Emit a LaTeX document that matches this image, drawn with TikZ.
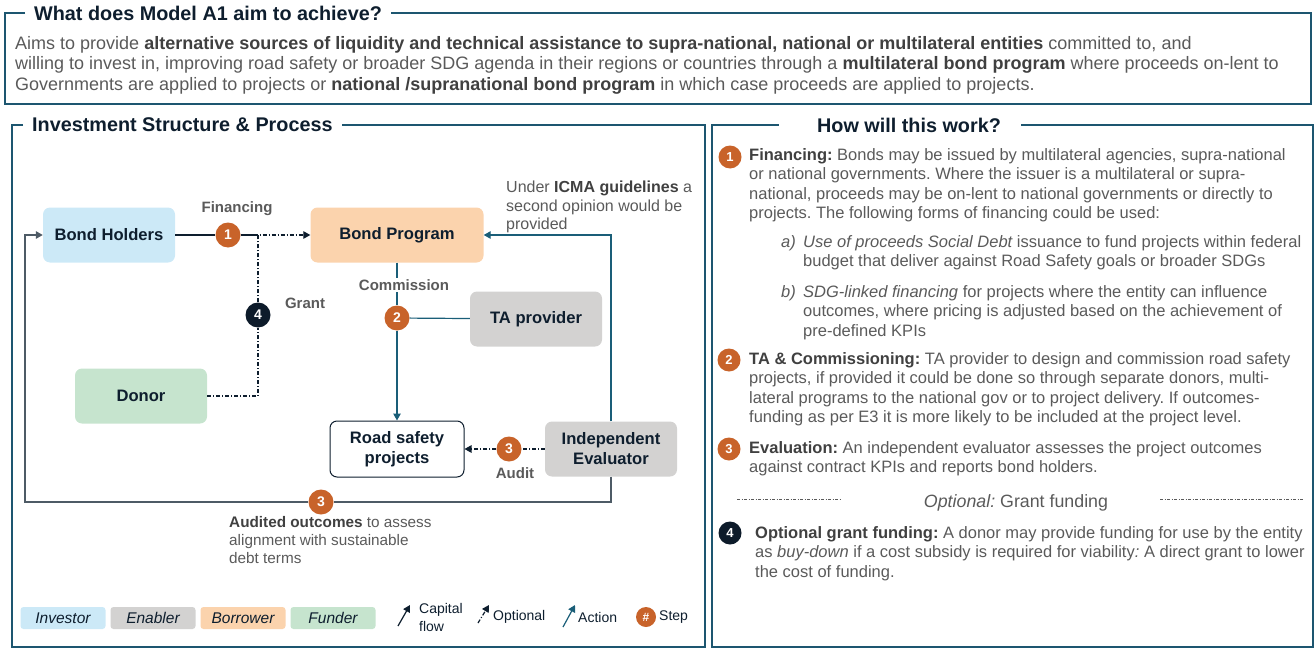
\documentclass[tikz,border=0pt]{standalone}
\usepackage{fontspec}
\setmainfont{Liberation Sans}
\usetikzlibrary{arrows.meta,positioning}
\frenchspacing
\definecolor{RSFrame}{HTML}{1D5670}
\definecolor{RSInk}{HTML}{0E1E2E}
\definecolor{RSGrey}{HTML}{5A5A5A}
\definecolor{RSDark}{HTML}{404040}
\definecolor{RSTeal}{HTML}{1A5E78}
\definecolor{RSSlate}{HTML}{4E5B66}
\definecolor{RSOrange}{HTML}{C8632A}
\definecolor{RSNavy}{HTML}{0D1B2A}
\definecolor{RSInvestor}{HTML}{CCE9F7}
\definecolor{RSEnabler}{HTML}{D3D2D1}
\definecolor{RSBorrower}{HTML}{FBD3AD}
\definecolor{RSFunder}{HTML}{C6E4CE}
\newcommand{\keyterm}[1]{{\bfseries\color{RSDark}#1}}

\begin{document}
\begin{tikzpicture}[x=1pt,y=-1pt,
      >={Triangle[length=7pt,width=7.5pt]},
      panel/.style={draw=RSFrame,line width=1.8pt},
      paneltitle/.style={inner xsep=9pt,inner ysep=0pt,text=RSInk,
        font=\bfseries\fontsize{19.8}{22}\selectfont},
      actor/.style={rounded corners=7pt,minimum width=132pt,minimum height=55pt,
        align=center,text=RSInk,font=\bfseries\fontsize{16.6}{20}\selectfont},
      stepno/.style={circle,fill=RSOrange,text=white,minimum size=25pt,inner sep=0pt,
        font=\bfseries\fontsize{14}{14}\selectfont},
      flowlabel/.style={text=RSGrey,font=\bfseries\fontsize{15}{18}\selectfont},
      note/.style={anchor=north west,align=left,inner sep=0pt,text=RSGrey,
        font=\fontsize{15.3}{18.3}\selectfont},
      body/.style={anchor=north west,align=left,inner sep=0pt,text=RSGrey,
        font=\fontsize{16.5}{19.5}\selectfont},
      legendkey/.style={rounded corners=3pt,minimum width=85pt,minimum height=22pt,
        text=RSInk,font=\itshape\fontsize{15.5}{18}\selectfont},
      capital/.style={draw=RSInk,line width=1.2pt},
      optional/.style={draw=RSInk,line width=1.2pt,dash pattern=on 4pt off 2pt on 1pt off 2pt},
      action/.style={draw=RSTeal,line width=1.2pt},
      feedback/.style={draw=RSSlate,line width=1.5pt}
    ]
    \useasboundingbox (0,0) rectangle (1316,650);

    % panels
    \node[paneltitle,anchor=west] (aimtitle) at (25,13) {What does Model A1 aim to achieve?};
    \draw[panel] (aimtitle.west) -- (5,13) -- (5,104) -- (1311,104) -- (1311,13) -- (aimtitle.east);
    \node[paneltitle,anchor=west] (structtitle) at (23,125) {Investment Structure \& Process};
    \draw[panel] (structtitle.west) -- (12,125) -- (12,647) -- (705,647) -- (705,125) -- (structtitle.east);
    \node[paneltitle,inner xsep=20pt] (howtitle) at (909,125) {How will this work?};
    \draw[panel] ([xshift=-18pt]howtitle.west) -- (712,125) -- (712,647) -- (1313,647) -- (1313,125) -- (howtitle.east);

    \node[anchor=north west,align=left,inner sep=0pt,text=RSGrey,font=\fontsize{18}{20.5}\selectfont] (aimtext) at (15,36)
      {Aims to provide \keyterm{alternative sources of liquidity and technical assistance to supra-national, national or multilateral entities} committed to, and\\
       willing to invest in, improving road safety or broader SDG agenda in their regions or countries through a \keyterm{multilateral bond program} where proceeds on-lent to\\
       Governments are applied to projects or \keyterm{national /supranational bond program} in which case proceeds are applied to projects.};

    % actors
    \node[actor,fill=RSInvestor] (holders) at (109,235) {Bond Holders};
    \node[actor,fill=RSBorrower,minimum width=173pt] (program) at (397,235) {Bond Program};
    \node[actor,fill=RSEnabler] (taprov) at (536,319) {TA provider};
    \node[actor,fill=RSFunder] (donor) at (141,396) {Donor};
    \node[actor,draw=RSInk,line width=1pt,fill=white,minimum width=134pt,minimum height=56pt] (projects) at (397,449) {Road safety\\projects};
    \node[actor,fill=RSEnabler] (evaluator) at (611,449) {Independent\\Evaluator};

    \node[stepno] (s1) at (228,235) {1};
    \node[stepno,fill=RSNavy] (s4) at (258,315) {4};
    \node[stepno] (s2) at (397,318) {2};
    \node[stepno] (s3audit) at (509,449) {3};
    \node[stepno] (s3loop) at (321,502) {3};
    \coordinate (grantjoin) at (258,235);
    \coordinate (loopcorner) at (25,502);

    % flows
    \draw[capital] (holders) -- (s1) -- (grantjoin);
    \draw[optional,->] (donor.east) -| (s4) (s4) -- (grantjoin) -- (program.west);
    \draw[action] (program) -- (s2);
    \draw[action,->] (s2) -- (projects);
    \draw[action] (taprov) -- (s2);
    \draw[optional] (evaluator) -- (s3audit);
    \draw[optional,->] (s3audit) -- (projects);
    \draw[action,->] (evaluator.north) |- (program.east);
    \draw[feedback] (evaluator.south) |- (s3loop);
    \draw[feedback,->] (s3loop) -- (loopcorner) |- (holders.west);

    \node[flowlabel] (finlabel) at (237,209) {Financing};
    \node[flowlabel] (grantlabel) at (305,303) {Grant};
    \node[flowlabel,fill=white,inner ysep=1pt] (commlabel) at (404,285) {Commission};
    \node[flowlabel] (auditlabel) at (515,473) {Audit};
    \node[note,font=\fontsize{16}{18.3}\selectfont] (icmanote) at (506,181) {Under \keyterm{ICMA guidelines} a\\second opinion would be\\provided};
    \node[note] (auditnote) at (229,516) {\keyterm{Audited outcomes} to assess\\alignment with sustainable\\debt terms};

    % legend
    \node[legendkey,fill=RSInvestor] (keyinv) at (63,618) {Investor};
    \node[legendkey,fill=RSEnabler] (keyena) at (153,618) {Enabler};
    \node[legendkey,fill=RSBorrower] (keybor) at (243,618) {Borrower};
    \node[legendkey,fill=RSFunder] (keyfun) at (333,618) {Funder};
    \draw[capital,->] (398,626) -- (410,605);
    \node[anchor=west,align=left,inner sep=0pt,text=RSInk,font=\fontsize{14}{18}\selectfont] (keycap) at (419,617) {Capital\\flow};
    \draw[optional,->] (478,623) -- (489,605);
    \node[anchor=west,inner sep=0pt,text=RSInk,font=\fontsize{14}{18}\selectfont] (keyopt) at (493,617) {Optional};
    \draw[action,->] (563,627) -- (575,605);
    \node[anchor=west,inner sep=0pt,text=RSInk,font=\fontsize{14}{18}\selectfont] (keyact) at (578,617) {Action};
    \node[stepno,minimum size=20pt,font=\bfseries\fontsize{12}{12}\selectfont] (keystep) at (646,617) {\#};
    \node[anchor=west,inner sep=0pt,text=RSInk,font=\fontsize{14}{18}\selectfont] (keysteptext) at (659,617) {Step};

    % how will this work
    \node[stepno,minimum size=23pt,font=\bfseries\fontsize{13}{13}\selectfont] (r1) at (730,157) {1};
    \node[body] (r1text) at (749,148)
      {\keyterm{Financing:} Bonds may be issued by multilateral agencies, supra-national\\
       or national governments. Where the issuer is a multilateral or supra-\\
       national, proceeds may be on-lent to national governments or directly to\\
       projects. The following forms of financing could be used:};
    \node[body] (rataglabel) at (781,235) {\itshape a)};
    \node[body] (ratext) at (803,235)
      {\itshape Use of proceeds Social Debt\upshape{} issuance to fund projects within federal\\
       budget that deliver against Road Safety goals or broader SDGs};
    \node[body] (rbtaglabel) at (781,285) {\itshape b)};
    \node[body] (rbtext) at (803,285)
      {\itshape SDG-linked financing\upshape{} for projects where the entity can influence\\
       outcomes, where pricing is adjusted based on the achievement of\\
       pre-defined KPIs};
    \node[stepno,minimum size=23pt,font=\bfseries\fontsize{13}{13}\selectfont] (r2) at (729,360) {2};
    \node[body] (r2text) at (749,352)
      {\keyterm{TA \& Commissioning:} TA provider to design and commission road safety\\
       projects, if provided it could be done so through separate donors, multi-\\
       lateral programs to the national gov or to project delivery. If outcomes-\\
       funding as per E3 it is more likely to be included at the project level.};
    \node[stepno,minimum size=23pt,font=\bfseries\fontsize{13}{13}\selectfont] (r3) at (729,449) {3};
    \node[body] (r3text) at (749,441)
      {\keyterm{Evaluation:} An independent evaluator assesses the project outcomes\\
       against contract KPIs and reports bond holders.};
    \node[text=RSGrey,font=\fontsize{17.8}{20}\selectfont] (optheading) at (1016,503) {\itshape Optional:\upshape{} Grant funding};
    \draw[draw=RSGrey,line width=0.7pt,dash pattern=on 3pt off 1.5pt on 1pt off 1.5pt] (737,499) -- (840,499) (1160,499) -- (1303,499);
    \node[stepno,fill=RSNavy,minimum size=23pt,font=\bfseries\fontsize{13}{13}\selectfont] (r4) at (730,533) {4};
    \node[body] (r4text) at (755,526)
      {\keyterm{Optional grant funding:} A donor may provide funding for use by the entity\\
       as \textit{buy-down} if a cost subsidy is required for viability\textit{:} A direct grant to lower\\
       the cost of funding.};
  \end{tikzpicture}
\end{document}
